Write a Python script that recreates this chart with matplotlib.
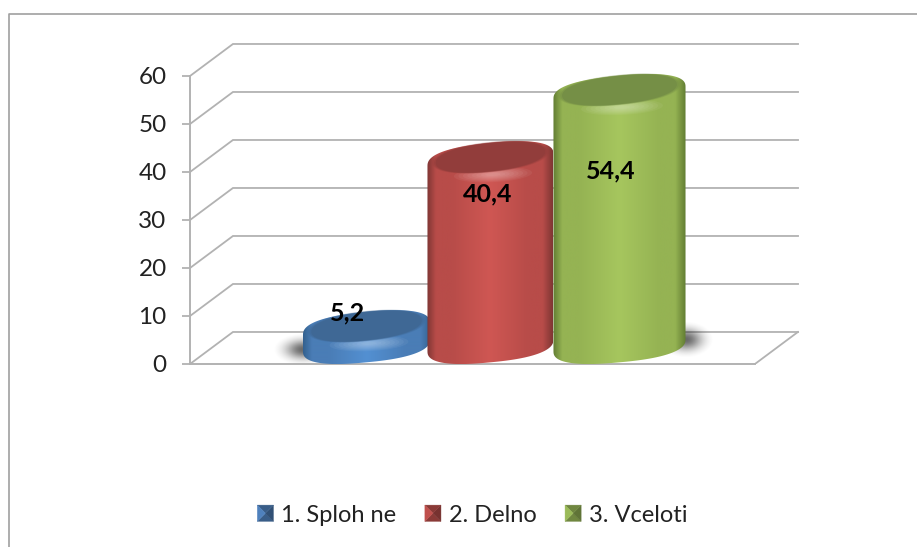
import numpy as np
import matplotlib
matplotlib.use('Agg')
import matplotlib.pyplot as plt
from matplotlib.colors import LinearSegmentedColormap
from matplotlib.legend_handler import HandlerBase
from matplotlib.lines import Line2D
from matplotlib.patches import Patch, Polygon

categories = ['1. Sploh ne', '2. Delno', '3. Vceloti']
values = [5.2, 40.4, 54.4]
value_labels = ['5,2', '40,4', '54,4']
y_ticks = [0, 10, 20, 30, 40, 50, 60]

# layout, all in axis units
x_pos = [0, 0.984, 2.008]
half_w = [0.504, 0.5, 0.524]
label_dx = [-0.15, -0.02, -0.07]
label_dy = [5.4, -5.0, -14.2]
X_LEFT, X_FRONT, X_END, X_LIM = -1.4008, 3.083, 3.425, 3.52
DEPTH_X, DEPTH_Y = 0.341, 6.67
ELL_B, ELL_S = 3.55, 1.25
TOP_LIFT, BASE_LIFT = 2.1, 3.9

GRID = '#b2b2b2'
edge_cols = ['#33618f', '#7f3634', '#627d33']
mid_cols = ['#4a7db6', '#b84c49', '#95b353']
light_cols = ['#5390d2', '#cf5753', '#a6c65e']
face_cols = ['#3f6895', '#923d3b', '#758f46']

plt.rcParams['font.family'] = ['Lato', 'DejaVu Sans']

fig = plt.figure(figsize=(9.17, 5.47), dpi=100)
ax = fig.add_axes([190 / 917, (547 - 364) / 547, 620 / 917, 336 / 547])
ax.set_xlim(X_LEFT, X_LIM)
ax.set_ylim(0, 70)
ax.patch.set_visible(False)


def ellipse(cx, cy, a, b=ELL_B, s=ELL_S, t=None, p=0.8):
    # slightly squared ellipse so the shoulders come out round
    if t is None:
        t = np.linspace(0, 2 * np.pi, 160)
    c = np.sign(np.cos(t)) * np.abs(np.cos(t)) ** p
    d = np.sign(np.sin(t)) * np.abs(np.sin(t)) ** p
    return np.column_stack([cx + a * c, cy + b * d + s * c])


# walls and floor
for v in y_ticks:
    ax.plot([X_LEFT, X_LEFT + DEPTH_X, X_END], [v, v + DEPTH_Y, v + DEPTH_Y],
            color=GRID, lw=1.3, zorder=1, solid_joinstyle='miter')
ax.plot([X_FRONT, X_FRONT + DEPTH_X], [0, DEPTH_Y], color=GRID, lw=1.3, zorder=1)

ax.spines['top'].set_visible(False)
ax.spines['right'].set_visible(False)
ax.spines['left'].set_bounds(0, 60)
ax.spines['bottom'].set_bounds(X_LEFT, X_FRONT)
ax.spines['left'].set_color(GRID)
ax.spines['bottom'].set_color(GRID)
ax.spines['left'].set_linewidth(1.4)
ax.spines['bottom'].set_linewidth(1.4)
ax.set_xticks([])
ax.set_yticks(y_ticks)
ax.tick_params(axis='y', length=5.8, width=1.3, color=GRID, pad=11, labelsize=17.5, labelcolor='#222222')

# soft shadows at the outer bases
gy, gx = np.mgrid[-1:1:80j, -1:1:80j]
shadow = np.zeros((80, 80, 4))
shadow[..., 3] = 0.62 * np.clip(np.exp(-3.0 * (gx ** 2 + gy ** 2)) - 0.05, 0, 1)
ax.imshow(shadow, extent=[x_pos[0] - half_w[0] - 0.24, x_pos[0] - half_w[0] + 0.24, -0.4, 6.4], aspect='auto', zorder=2)
ax.imshow(shadow, extent=[x_pos[2] + half_w[2] - 0.22, x_pos[2] + half_w[2] + 0.22, 1.2, 8.8], aspect='auto', zorder=2)

# cylinders
for i, v in enumerate(values):
    z = 3 + i
    x, a = x_pos[i], half_w[i]
    top = v + TOP_LIFT
    up = np.linspace(0, np.pi, 80)
    low = np.linspace(np.pi, 2 * np.pi, 80)
    outline = np.vstack([ellipse(x, top, a, t=up), ellipse(x, BASE_LIFT, a, t=low)])
    shape = Polygon(outline, closed=True, fc='none', ec='none', zorder=z)
    ax.add_patch(shape)
    cmap = LinearSegmentedColormap.from_list('c', [
        (0, edge_cols[i]), (0.07, mid_cols[i]), (0.2, mid_cols[i]), (0.5, light_cols[i]),
        (0.8, mid_cols[i]), (0.92, mid_cols[i]), (1, edge_cols[i])])
    grad = np.linspace(0, 1, 256).reshape(1, -1)
    im = ax.imshow(grad, cmap=cmap, extent=[x - a, x + a, 0, top + ELL_B + 2], aspect='auto', zorder=z)
    im.set_clip_path(shape)

    # highlight on the front of the rim, then the top face with a soft edge
    rim_y = top - ELL_B * 0.85
    for k in np.linspace(1, 0.2, 8):
        glow = Polygon(ellipse(x + 0.02, rim_y, a * 0.62 * k, ELL_B * 0.45 * k, ELL_S * 0.3 * k, p=1),
                       closed=True, fc='white', ec='none', alpha=0.05, zorder=z + 0.2)
        ax.add_patch(glow)
    for k, al in zip([1.06, 1.03, 1.0], [0.3, 0.5, 1.0]):
        ax.add_patch(Polygon(ellipse(x, top + 0.6, a * 0.87 * k, ELL_B * 0.84 * k, ELL_S * 0.95, p=0.92),
                             closed=True, fc=face_cols[i], ec='none', alpha=al, zorder=z + 0.3))
    ax.text(x + label_dx[i], v + label_dy[i], value_labels[i], ha='center', va='center',
            fontsize=18, fontweight='bold', color='black', zorder=20)


class PyramidHandler(HandlerBase):
    def create_artists(self, legend, orig, xd, yd, w, h, fontsize, trans):
        col = orig.get_facecolor()
        x0, y0 = -xd, -yd
        mx, my = x0 + w / 2, y0 + h / 2
        corners = [(x0, y0), (x0 + w, y0), (x0 + w, y0 + h), (x0, y0 + h)]
        shade = [0.72, 0.62, 0.72, 1.0]
        out = []
        for j in range(4):
            c = np.array(col[:3]) * shade[j]
            p = Polygon([corners[j], corners[(j + 1) % 4], (mx, my)], closed=True, fc=c, ec=c, lw=0.3, transform=trans)
            out.append(p)
        return out


handles = [Patch(facecolor=c) for c in ['#4f81bd', '#c0504d', '#9bbb59']]
ax.legend(handles, categories, handler_map={Patch: PyramidHandler()}, loc='center',
          bbox_to_anchor=(472.5 / 917, (547 - 515) / 547), bbox_transform=fig.transFigure,
          ncol=3, frameon=False, fontsize=17, labelcolor='#222222',
          handlelength=0.68, handleheight=0.68, handletextpad=0.34, columnspacing=1.2)

# outer frame of the chart
fig.add_artist(Line2D([9 / 917, 9 / 917, 1], [0, (547 - 14) / 547, (547 - 14) / 547], color='#a0a0a0', lw=1.2))

fig.savefig('out.png', dpi=100)
